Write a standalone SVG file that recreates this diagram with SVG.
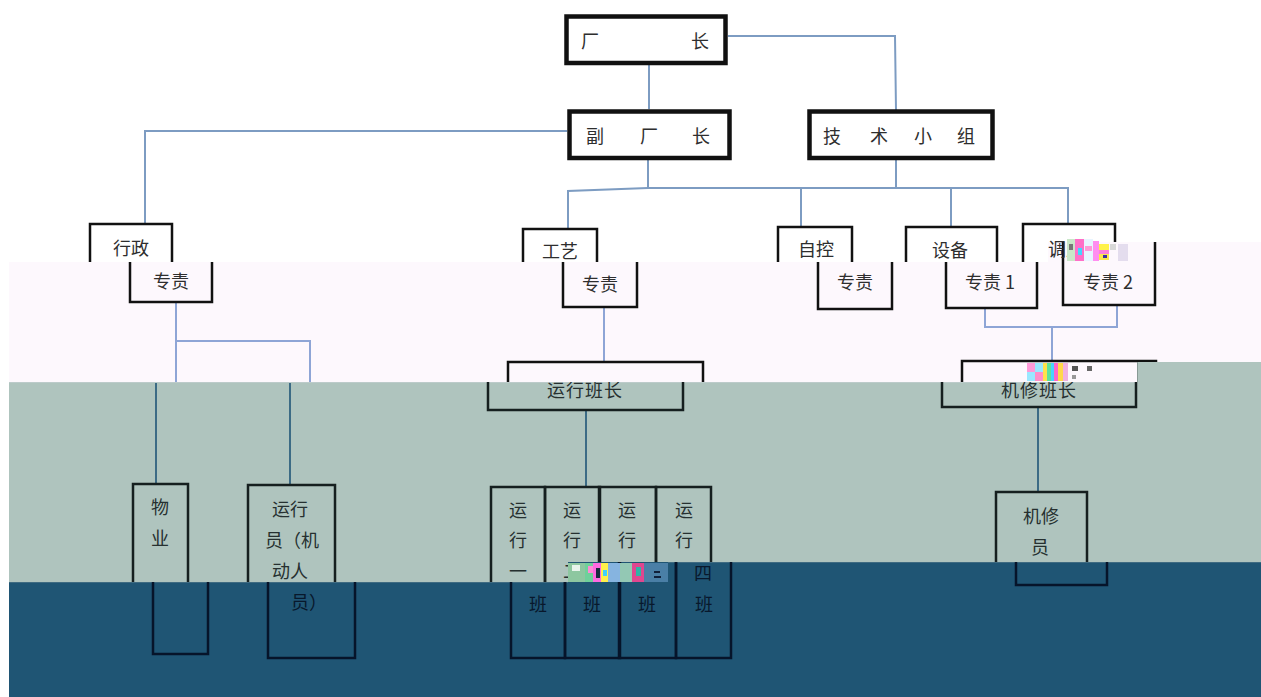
<svg xmlns="http://www.w3.org/2000/svg" width="1261" height="697" viewBox="0 0 1261 697">
<defs>
<style>
.box{fill:none;stroke:#111;stroke-width:2.5}
.thick{fill:none;stroke:#111;stroke-width:4.5}
.bt{fill:none;stroke:#151f1f;stroke-width:2.5}
.bd{fill:none;stroke:#06142a;stroke-width:2.5}
.ln{fill:none;stroke:#7d9cc2;stroke-width:2}
.lp{fill:none;stroke:#8ea5d6;stroke-width:2}
.lt{fill:none;stroke:#3c6b85;stroke-width:2}
.t{font-family:"Noto Sans CJK SC","Noto Sans",sans-serif;font-size:18px;fill:#2e2e2e;text-anchor:middle}
.tt{fill:#263030}
.td{fill:#08182c}
</style>
<clipPath id="cTop"><polygon points="0,0 1261,0 1261,242 1048,242 1048,262 0,262"/></clipPath>
<clipPath id="cPink"><polygon points="9,262 1048,262 1048,242 1261,242 1261,362 1137,362 1137,382 9,382"/></clipPath>
<clipPath id="cTeal"><polygon points="9,382 1137,382 1137,362 1261,362 1261,562 568,562 568,582 9,582"/></clipPath>
<clipPath id="cDark"><polygon points="9,582 568,582 568,562 1261,562 1261,697 9,697"/></clipPath>
</defs>

<!-- background bands -->
<rect width="1261" height="697" fill="#ffffff"/>
<polygon points="9,262 1048,262 1048,242 1261,242 1261,362 1137,362 1137,382 9,382" fill="#fdf8fd"/>
<polygon points="9,382 1137,382 1137,362 1261,362 1261,562 568,562 568,582 9,582" fill="#afc4be"/>
<polygon points="9,582 568,582 568,562 1261,562 1261,697 9,697" fill="#1f5574"/>
<line x1="9" y1="382.5" x2="1137" y2="382.5" stroke="#bccbca" stroke-width="1"/>
<line x1="9" y1="582.5" x2="568" y2="582.5" stroke="#3f6b82" stroke-width="1"/>
<line x1="668" y1="562.5" x2="1261" y2="562.5" stroke="#3f6b82" stroke-width="1"/>

<!-- connectors -->
<g id="connectors">
  <path class="ln" d="M728,36 H895 L896,110"/>
  <path class="ln" d="M649,65 V109"/>
  <path class="ln" d="M567,131 H145 V224"/>
  <path class="ln" d="M648,160 V188"/>
  <path class="ln" d="M896,160 V188"/>
  <path class="ln" d="M568,229 V191 L648,188 H1068 V224"/>
  <path class="ln" d="M801,188 V227"/>
  <path class="ln" d="M951,188 V227"/>
  <path class="lp" d="M176,302 V382 M176,341 H310 V382"/>
  <path class="lp" d="M604,307 V362"/>
  <path class="lp" d="M985,308 V327 H1117 V305 M1052,327 V361"/>
  <path class="lt" d="M156,383 V483 M290,383 V484"/>
  <path class="lt" d="M586,410 V486"/>
  <path class="lt" d="M1038,407 V492"/>
</g>

<!-- level 1 -->
<g id="n-changzhang">
  <rect class="thick" x="566.5" y="16.5" width="159" height="46.5"/>
  <text class="t" x="590" y="48">厂</text>
  <text class="t" x="700" y="48">长</text>
</g>
<g id="n-fuchangzhang">
  <rect class="thick" x="569.5" y="111.5" width="160" height="46.5"/>
  <text class="t" x="595" y="143">副</text>
  <text class="t" x="649" y="143">厂</text>
  <text class="t" x="701" y="143">长</text>
</g>
<g id="n-jishuxiaozu">
  <rect class="thick" x="809.5" y="111.5" width="183" height="46.5"/>
  <text class="t" x="832" y="143">技</text>
  <text class="t" x="879" y="143">术</text>
  <text class="t" x="923" y="143">小</text>
  <text class="t" x="966" y="143">组</text>
</g>

<!-- level 3 (top band + pink band shifted) -->
<g id="n-xingzheng">
  <g clip-path="url(#cTop)"><rect class="box" x="90" y="224" width="82" height="78"/></g>
  <g clip-path="url(#cPink)"><rect class="box" x="130" y="224" width="82" height="78"/></g>
  <text class="t" x="131" y="255">行政</text>
  <text class="t" x="171" y="288">专责</text>
</g>
<g id="n-gongyi">
  <g clip-path="url(#cTop)"><rect class="box" x="523" y="229" width="74" height="78"/></g>
  <g clip-path="url(#cPink)"><rect class="box" x="563" y="229" width="74" height="78"/></g>
  <text class="t" x="560" y="258">工艺</text>
  <text class="t" x="600" y="291">专责</text>
</g>
<g id="n-zikong">
  <g clip-path="url(#cTop)"><rect class="box" x="778" y="227" width="74" height="82"/></g>
  <g clip-path="url(#cPink)"><rect class="box" x="818" y="227" width="74" height="82"/></g>
  <text class="t" x="816" y="256">自控</text>
  <text class="t" x="855" y="289">专责</text>
</g>
<g id="n-shebei">
  <g clip-path="url(#cTop)"><rect class="box" x="906" y="227" width="91" height="81"/></g>
  <g clip-path="url(#cPink)"><rect class="box" x="946" y="227" width="91" height="81"/></g>
  <text class="t" x="950" y="257">设备</text>
  <text class="t" x="990" y="289">专责 1</text>
</g>
<g id="n-diaodu">
  <g clip-path="url(#cTop)"><rect class="box" x="1023" y="224" width="92" height="81"/></g>
  <g clip-path="url(#cPink)"><rect class="box" x="1063" y="224" width="92" height="81"/></g>
  <text class="t" x="1066" y="256">调度</text>
  <text class="t" x="1108" y="289">专责 2</text>
</g>

<!-- level 4 -->
<g id="n-yunxingbanzhang">
  <g clip-path="url(#cPink)"><rect class="box" x="508" y="362" width="195" height="48"/></g>
  <g clip-path="url(#cTeal)"><rect class="bt" x="488" y="362" width="195" height="48"/>
  <text class="t tt" x="585" y="397" font-size="19" letter-spacing="1">运行班长</text></g>
</g>
<g id="n-jixiubanzhang">
  <g clip-path="url(#cPink)"><rect class="box" x="962" y="361" width="194" height="46"/></g>
  <g clip-path="url(#cTeal)"><rect class="bt" x="942" y="361" width="194" height="46"/>
  <text class="t tt" x="1039" y="397" font-size="19" letter-spacing="1">机修班长</text></g>
</g>

<!-- level 5 -->
<g id="n-wuye">
  <g clip-path="url(#cTeal)"><rect class="bt" x="133" y="484" width="55" height="170"/></g>
  <g clip-path="url(#cDark)"><rect class="bd" x="153" y="484" width="55" height="170"/></g>
  <text class="t tt" x="160" y="514">物</text>
  <text class="t tt" x="160" y="545">业</text>
</g>
<g id="n-yunxingyuan">
  <g clip-path="url(#cTeal)"><rect class="bt" x="248" y="485" width="87" height="173"/></g>
  <g clip-path="url(#cDark)"><rect class="bd" x="268" y="485" width="87" height="173"/></g>
  <text class="t tt" x="290" y="516" font-size="17">运行</text>
  <text class="t tt" x="292" y="547" font-size="17">员（机</text>
  <text class="t tt" x="290" y="578" font-size="17">动人</text>
  <text class="t td" x="309" y="609" font-size="17">员）</text>
</g>
<g id="n-yunxing1">
  <g clip-path="url(#cTeal)"><rect class="bt" x="491" y="487" width="54" height="171"/></g>
  <g clip-path="url(#cDark)"><rect class="bd" x="511" y="487" width="54" height="171"/></g>
  <text class="t tt" x="518" y="517">运</text>
  <text class="t tt" x="518" y="547">行</text>
  <text class="t tt" x="518" y="578">一</text>
  <text class="t td" x="538" y="611">班</text>
</g>
<g id="n-yunxing2">
  <g clip-path="url(#cTeal)"><rect class="bt" x="545" y="487" width="55" height="171"/></g>
  <g clip-path="url(#cDark)"><rect class="bd" x="565" y="487" width="55" height="171"/></g>
  <text class="t tt" x="572" y="517">运</text>
  <text class="t tt" x="572" y="547">行</text>
  <text class="t tt" x="572" y="578">二</text>
  <text class="t td" x="592" y="611">班</text>
</g>
<g id="n-yunxing3">
  <g clip-path="url(#cTeal)"><rect class="bt" x="599" y="487" width="57" height="171"/></g>
  <g clip-path="url(#cDark)"><rect class="bd" x="619" y="487" width="57" height="171"/></g>
  <text class="t tt" x="627" y="517">运</text>
  <text class="t tt" x="627" y="547">行</text>
  <text class="t tt" x="627" y="578">三</text>
  <text class="t td" x="647" y="611">班</text>
</g>
<g id="n-yunxing4">
  <g clip-path="url(#cTeal)"><rect class="bt" x="656" y="487" width="55" height="171"/></g>
  <g clip-path="url(#cDark)"><rect class="bd" x="676" y="487" width="55" height="171"/></g>
  <text class="t tt" x="684" y="517">运</text>
  <text class="t tt" x="684" y="547">行</text>
  <text class="t td" x="703" y="580">四</text>
  <text class="t td" x="704" y="611">班</text>
</g>
<g id="n-jixiuyuan">
  <g clip-path="url(#cTeal)"><rect class="bt" x="996" y="492" width="91" height="93"/></g>
  <g clip-path="url(#cDark)"><rect class="bd" x="1016" y="492" width="91" height="93"/></g>
  <text class="t tt" x="1041" y="523">机修</text>
  <text class="t tt" x="1040" y="554">员</text>
</g>

<!-- image glitch blocks -->
<g id="glitch">
  <rect x="1067" y="239" width="8" height="22" fill="#c9e7c8"/>
  <rect x="1069" y="244" width="4" height="6" fill="#777"/>
  <rect x="1075" y="239" width="9" height="22" fill="#ff6fc8"/>
  <rect x="1078" y="248" width="4" height="7" fill="#3fd6ff"/>
  <rect x="1084" y="239" width="9" height="22" fill="#e8f4ff"/>
  <rect x="1085" y="246" width="7" height="5" fill="#ff9ad8"/>
  <rect x="1093" y="241" width="6" height="20" fill="#ff8ef0"/>
  <rect x="1099" y="244" width="10" height="6" fill="#fff24a"/>
  <rect x="1099" y="250" width="10" height="4" fill="#ff7fd9"/>
  <rect x="1099" y="254" width="10" height="6" fill="#fbe84a"/>
  <rect x="1103" y="255" width="4" height="3" fill="#3a30a0"/>
  <rect x="1110" y="244" width="6" height="6" fill="#d8d8d8"/>
  <rect x="1118" y="244" width="10" height="17" fill="#e4ddee"/>
  <rect x="1027" y="363" width="8" height="9" fill="#ff9ad8"/>
  <rect x="1035" y="363" width="8" height="9" fill="#9ae8ff"/>
  <rect x="1027" y="372" width="8" height="9" fill="#9ae8ff"/>
  <rect x="1035" y="372" width="8" height="9" fill="#ff8fc9"/>
  <rect x="1043" y="363" width="4" height="18" fill="#ffe24a"/>
  <rect x="1047" y="363" width="4" height="18" fill="#5fe39a"/>
  <rect x="1051" y="363" width="3" height="18" fill="#48d2ff"/>
  <rect x="1054" y="363" width="4" height="18" fill="#ff64c8"/>
  <rect x="1058" y="363" width="5" height="18" fill="#ffd84a"/>
  <rect x="1063" y="363" width="5" height="18" fill="#f0b0e0"/>
  <rect x="1072" y="366" width="6" height="5" fill="#555"/>
  <rect x="1087" y="366" width="5" height="5" fill="#666"/>
  <rect x="1072" y="375" width="4" height="4" fill="#999"/>
  <rect x="568" y="563" width="17" height="19" fill="#8dc7a0"/>
  <rect x="572" y="565" width="8" height="6" fill="#e8f4ec"/>
  <rect x="585" y="563" width="8" height="19" fill="#6fd09a"/>
  <rect x="588" y="566" width="5" height="7" fill="#ff8ad6"/>
  <rect x="593" y="563" width="8" height="19" fill="#ff6ae0"/>
  <rect x="596" y="568" width="4" height="10" fill="#1a2a40"/>
  <rect x="601" y="563" width="7" height="19" fill="#fff04a"/>
  <rect x="603" y="570" width="4" height="6" fill="#40d0ff"/>
  <rect x="608" y="563" width="12" height="19" fill="#86b4e0"/>
  <rect x="620" y="563" width="12" height="19" fill="#93c8b4"/>
  <rect x="632" y="563" width="12" height="19" fill="#e0468f"/>
  <rect x="636" y="567" width="5" height="9" fill="#2fb3a6"/>
  <rect x="644" y="563" width="24" height="19" fill="#4a7fa6"/>
  <rect x="654" y="571" width="6" height="2" fill="#10203a"/>
  <rect x="654" y="576" width="7" height="2" fill="#10203a"/>
</g>
</svg>
